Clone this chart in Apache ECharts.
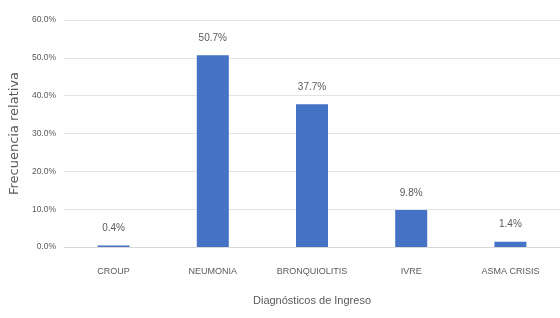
<!DOCTYPE html>
<html>
<head>
<meta charset="utf-8">
<script src="https://cdn.jsdelivr.net/npm/echarts@6/dist/echarts.min.js"></script>
<style>
  html, body { margin: 0; padding: 0; background: #fff; }
  #chart { width: 560px; height: 318px; }
</style>
</head>
<body>
<div id="chart"></div>
<script>
// categorías y valores (%)
const categories = ["CROUP", "NEUMONIA", "BRONQUIOLITIS", "IVRE", "ASMA CRISIS"];
const values = [0.4, 50.7, 37.7, 9.8, 1.4];
const yTicks = [0, 10, 20, 30, 40, 50, 60];

const font = "'Liberation Sans Narrow', 'Liberation Sans', sans-serif";
const gray = "#595959";

const chart = echarts.init(document.getElementById("chart"));
chart.setOption({
  backgroundColor: "#fff",
  animation: false,
  grid: { left: 57, right: -4, top: 20, bottom: 71 },
  xAxis: {
    type: "category",
    data: categories,
    name: "Diagnósticos de Ingreso",
    nameLocation: "middle",
    nameGap: 48,
    nameTextStyle: { color: gray, fontSize: 11, fontFamily: font },
    axisTick: { show: false },
    axisLine: { lineStyle: { color: "#d9d9d9" } },
    axisLabel: { color: gray, fontSize: 9, fontFamily: font, margin: 20, interval: 0 }
  },
  yAxis: {
    type: "value",
    min: yTicks[0],
    max: yTicks[yTicks.length - 1],
    interval: 10,
    name: "Frecuencia relativa",
    nameLocation: "middle",
    nameGap: 43,
    nameTextStyle: { color: gray, fontSize: 13, fontFamily: "DejaVu Sans" },
    axisLine: { show: false },
    axisTick: { show: false },
    splitLine: { lineStyle: { color: "#e3e3e3" } },
    axisLabel: {
      color: gray, fontSize: 8.5, fontFamily: font, margin: 8,
      formatter: v => v.toFixed(1) + "%"
    }
  },
  series: [{
    type: "bar",
    data: values,
    barWidth: 32,
    itemStyle: { color: "#4472C4" },
    label: {
      show: true,
      position: "top",
      distance: 12,
      color: gray,
      fontSize: 10,
      fontFamily: font,
      formatter: p => p.value.toFixed(1) + "%"
    }
  }]
});
</script>
</body>
</html>
